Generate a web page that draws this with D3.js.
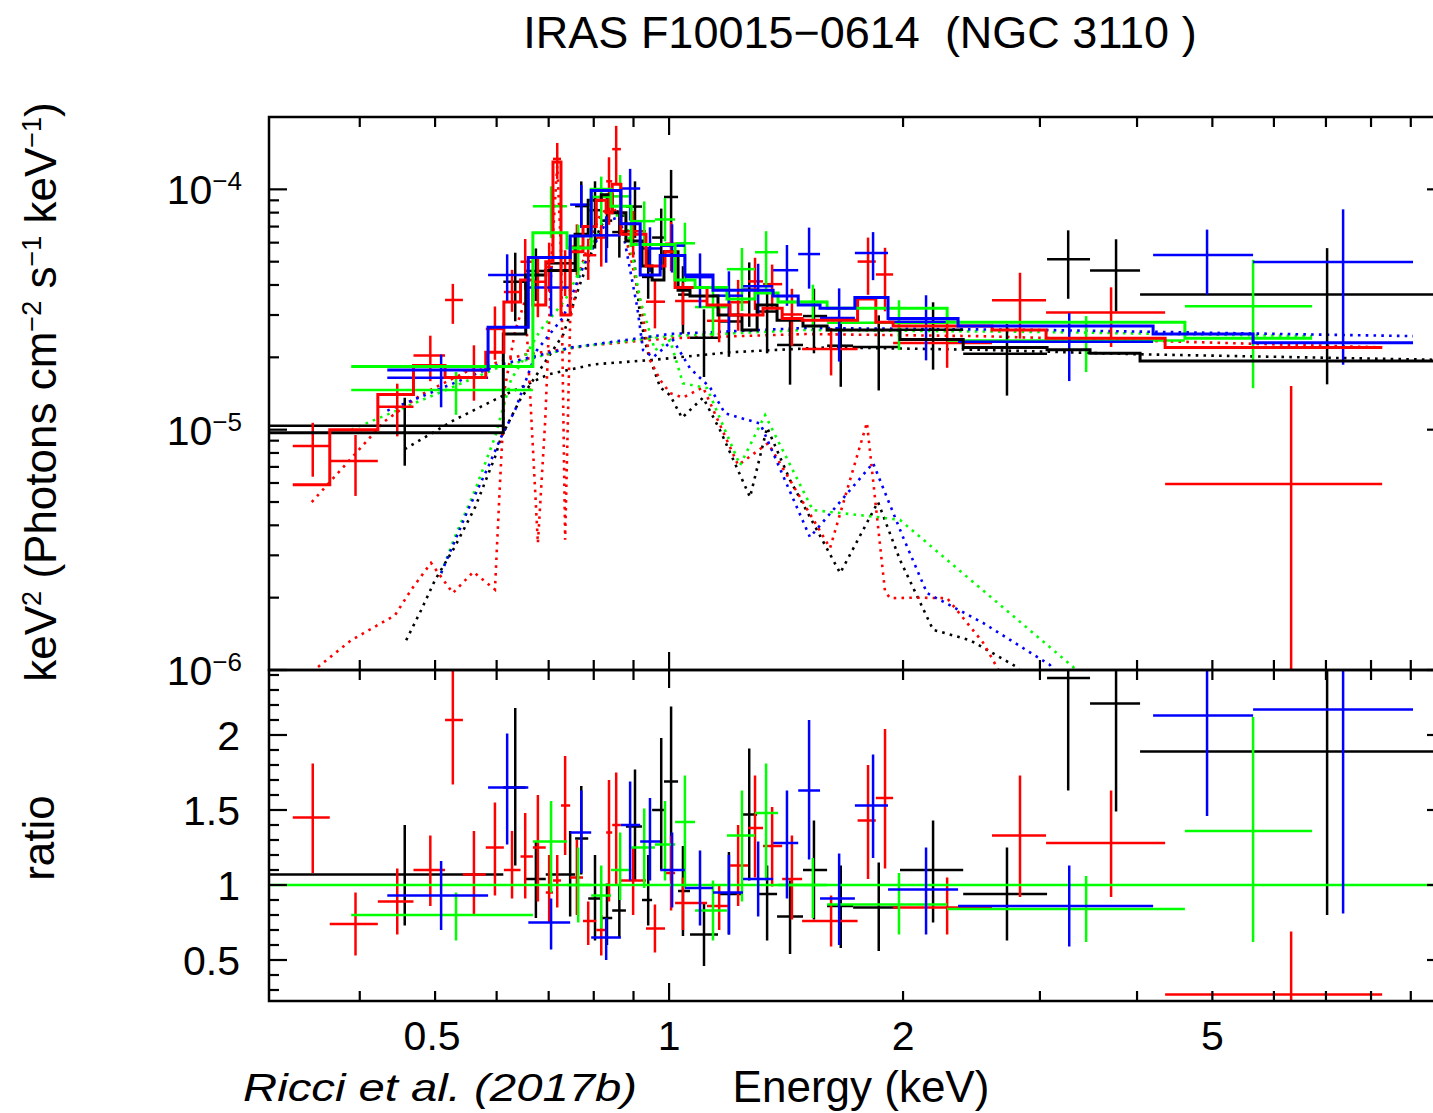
<!DOCTYPE html>
<html>
<head>
<meta charset="utf-8">
<script src="https://cdn.jsdelivr.net/npm/d3@7"></script>
<style>
  html, body { margin: 0; padding: 0; background: #fff; }
  svg { display: block; }
  text { font-family: "Liberation Sans", Arial, Helvetica, sans-serif; fill: #000; }
</style>
</head>
<body>
<svg id="chart" width="1433" height="1113"></svg>
<script>
// ---------- axis ticks ----------
const energyLabels = [0.5, 1, 2, 5];
const energyMinor = [0.4, 0.5, 0.6, 0.7, 0.8, 0.9, 2, 3, 4, 5, 6, 7, 8, 9];
const energyMajor = [1];
const fluxDecades = [1e-6, 1e-5, 1e-4];
const fluxExponents = ["−6", "−5", "−4"];
const ratioLabels = [0.5, 1, 1.5, 2];
const ratioLabelText = ["0.5", "1", "1.5", "2"];

// ---------- data set 1 (black) ----------
const blackLo  = [0.30,0.612,0.654,0.694,0.757,0.787,0.818,0.845,0.880,0.923,0.951,0.985,1.027,1.064,1.156,1.241,1.298,1.377,1.487,1.597,1.725,1.982,2.39,3.064,3.48,4.036];
const blackHi  = [0.612,0.654,0.694,0.757,0.787,0.818,0.845,0.880,0.923,0.951,0.985,1.027,1.064,1.156,1.241,1.298,1.377,1.487,1.597,1.725,1.982,2.39,3.064,3.48,4.036,10.5];
const blackCtr = [0.457,0.634,0.674,0.746,0.771,0.803,0.832,0.863,0.904,0.940,0.977,1.006,1.042,1.109,1.194,1.268,1.337,1.431,1.536,1.663,1.861,2.186,2.721,3.262,3.759,7.024];
const blackModel = [0.97e-5,2.5e-5,4.4e-5,4.6e-5,6.5e-5,9.0e-5,9.5e-5,8.0e-5,6.1e-5,4.8e-5,4.2e-5,5.5e-5,3.8e-5,3.6e-5,3.0e-5,2.6e-5,3.3e-5,2.85e-5,2.7e-5,2.6e-5,2.6e-5,2.37e-5,2.2e-5,2.15e-5,2.08e-5,1.93e-5];
const blackRatio   = [1.07,1.65,1.04,1.07,1.31,0.91,0.78,0.83,1.39,0.90,1.50,1.69,0.96,0.67,0.94,1.47,0.94,0.79,1.10,0.86,0.85,1.10,0.94,2.38,2.21,1.89];
const blackRatioLo = [0.73,1.13,0.78,0.79,1.07,0.63,0.60,0.65,1.03,0.73,1.10,1.03,0.66,0.46,0.67,1.03,0.63,0.54,0.77,0.58,0.56,0.75,0.63,1.63,1.49,0.80];
const blackRatioHi = [1.40,2.18,1.29,1.36,1.66,1.20,1.01,1.00,1.77,1.20,1.98,2.19,1.26,0.88,1.22,1.91,1.13,1.03,1.43,1.13,1.15,1.43,1.25,3.14,2.98,2.95];
const blackContinuum = [[0.457,8.3e-6],[0.53,1.1e-5],[0.61,1.38e-5],[0.70,1.7e-5],[0.80,1.87e-5],[0.95,1.95e-5],[1.2,2.1e-5],[1.6,2.2e-5],[2.5,2.15e-5],[4.0,2.06e-5],[10,1.95e-5]];
const blackThermal = [[0.459,1.33e-6],[0.480,1.78e-6],[0.500,2.37e-6],[0.530,3.25e-6],[0.563,4.76e-6],[0.597,7.68e-6],[0.608,9.31e-6],[0.643,1.33e-5],[0.731,2.49e-5],[0.768,4.03e-5],[0.791,5.22e-5],[0.815,6.95e-5],[0.845,8.18e-5],[0.870,8.02e-5],[0.899,5.58e-5],[0.918,2.94e-5],[0.937,2.14e-5],[0.974,1.5e-5],[1.003,1.39e-5],[1.039,1.12e-5],[1.106,1.36e-5],[1.163,9.95e-6],[1.271,5.24e-6],[1.337,1.02e-5],[1.431,6.17e-6],[1.660,2.53e-6],[1.857,5.0e-6],[1.982,2.87e-6],[2.186,1.47e-6],[2.44,1.33e-6],[2.80,1.03e-6],[2.9,9e-7]];

// ---------- data set 2 (red) ----------
const redLo  = [0.328,0.366,0.422,0.469,0.515,0.543,0.581,0.613,0.644,0.668,0.694,0.709,0.726,0.746,0.775,0.806,0.830,0.845,0.867,0.934,0.988,1.018,1.119,1.198,1.264,1.321,1.398,1.483,1.748,1.845,1.942,2.603,3.055,4.347];
const redHi  = [0.366,0.422,0.469,0.515,0.543,0.581,0.613,0.644,0.668,0.694,0.709,0.726,0.746,0.775,0.806,0.830,0.845,0.867,0.934,0.988,1.018,1.119,1.198,1.264,1.321,1.398,1.483,1.748,1.845,1.942,2.603,3.055,4.347,8.268];
const redCtr = [0.348,0.395,0.447,0.493,0.527,0.561,0.597,0.628,0.653,0.678,0.701,0.718,0.735,0.761,0.787,0.818,0.837,0.855,0.899,0.959,1.006,1.042,1.160,1.227,1.290,1.357,1.439,1.616,1.803,1.896,2.279,2.828,3.704,6.314];
const redModel = [5.9e-6,1.0e-5,1.4e-5,1.85e-5,1.65e-5,1.65e-5,2.1e-5,3.4e-5,4.2e-5,3.3e-5,5.0e-5,1.3e-4,3.0e-5,5.5e-5,7.0e-5,9.0e-5,8.0e-5,1.05e-4,6.5e-5,4.8e-5,5.5e-5,3.9e-5,3.3e-5,3.0e-5,3.0e-5,3.2e-5,2.9e-5,2.85e-5,3.5e-5,2.8e-5,2.7e-5,2.6e-5,2.4e-5,2.2e-5];
const redRatio   = [1.45,0.74,0.89,1.10,2.10,1.07,1.25,1.10,1.19,1.25,0.95,1.03,1.53,1.05,0.76,0.70,1.35,1.40,1.03,0.71,1.08,0.88,0.86,1.13,1.38,1.26,1.04,0.76,1.43,1.58,0.85,1.33,1.28,0.27];
const redRatioLo = [1.08,0.53,0.67,0.86,1.67,0.80,0.93,0.91,0.91,0.89,0.75,0.85,1.20,0.80,0.60,0.53,0.89,1.00,0.80,0.55,0.83,0.70,0.70,0.86,1.05,0.99,0.77,0.59,1.04,1.11,0.67,0.92,0.92,0];
const redRatioHi = [1.81,0.95,1.11,1.33,2.45,1.36,1.55,1.36,1.48,1.60,1.20,1.20,1.86,1.30,0.89,0.80,1.70,1.75,1.25,0.87,1.33,1.05,1.00,1.40,1.73,1.52,1.33,0.93,1.80,2.04,1.05,1.73,1.63,0.69];
const redContinuum = [[0.347,5.0e-6],[0.39,7.6e-6],[0.43,1.08e-5],[0.48,1.4e-5],[0.55,1.75e-5],[0.65,2.05e-5],[0.8,2.25e-5],[1.0,2.4e-5],[1.5,2.5e-5],[2.5,2.45e-5],[4.0,2.35e-5],[8.27,2.2e-5]];
const redThermal = [[0.3535,1.03e-6],[0.390,1.33e-6],[0.444,1.69e-6],[0.466,2.16e-6],[0.494,2.79e-6],[0.527,2.09e-6],[0.560,2.56e-6],[0.597,2.16e-6],[0.606,6.0e-6],[0.615,1.5e-5],[0.634,2.59e-5],[0.653,3.46e-5],[0.678,3.37e-6],[0.693,1.1e-5],[0.707,5.58e-5],[0.718,1.25e-4],[0.726,5.58e-5],[0.735,3.48e-6],[0.746,2.85e-5],[0.768,4.6e-5],[0.791,6.14e-5],[0.815,7.79e-5],[0.840,8.58e-5],[0.865,7.79e-5],[0.891,5.32e-5],[0.918,3.46e-5],[0.945,1.95e-5],[0.974,1.61e-5],[1.003,1.42e-5],[1.042,1.36e-5],[1.106,1.5e-5],[1.227,7.12e-6],[1.341,8.79e-6],[1.611,3.22e-6],[1.797,1.07e-5],[1.896,2.12e-6],[1.925,1.99e-6],[2.085,2.0e-6],[2.279,1.99e-6],[2.535,1.30e-6],[2.64,1.03e-6],[2.75,8e-7]];

// ---------- data set 3 (green) ----------
const greenLo  = [0.390,0.668,0.739,0.794,0.842,0.894,0.959,1.018,1.080,1.187,1.290,1.381,1.597,2.279,4.609];
const greenHi  = [0.668,0.739,0.794,0.842,0.894,0.959,1.018,1.080,1.187,1.290,1.381,1.597,2.279,4.609,6.719];
const greenCtr = [0.532,0.705,0.764,0.818,0.865,0.929,0.988,1.048,1.139,1.241,1.333,1.531,1.976,3.440,5.641];
const greenModel = [1.83e-5,6.6e-5,5.7e-5,1.0e-4,8.5e-5,5.9e-5,5.9e-5,4.2e-5,3.9e-5,3.5e-5,3.7e-5,3.4e-5,3.2e-5,2.8e-5,2.4e-5];
const greenRatio   = [0.80,1.29,1.00,0.93,1.10,1.25,1.27,1.42,0.83,1.33,1.48,1.00,0.87,0.84,1.36];
const greenRatioLo = [0.63,0.95,0.75,0.71,0.90,0.98,1.03,0.98,0.63,0.89,1.03,0.78,0.67,0.62,0.62];
const greenRatioHi = [0.95,1.56,1.25,1.13,1.35,1.51,1.56,1.73,1.03,1.63,1.81,1.18,1.08,1.06,2.12];
const greenContinuum = [[0.39,1.0e-5],[0.5,1.4e-5],[0.6,1.8e-5],[0.75,2.2e-5],[1.0,2.45e-5],[1.5,2.6e-5],[3.0,2.55e-5],[6.72,2.45e-5]];
const greenThermal = [[0.509,2.53e-6],[0.530,3.57e-6],[0.563,5.61e-6],[0.597,9.31e-6],[0.626,1.61e-5],[0.683,2.59e-5],[0.735,3.46e-5],[0.791,5.58e-5],[0.832,7.79e-5],[0.878,7.79e-5],[0.918,3.46e-5],[0.959,2.14e-5],[1.003,2.36e-5],[1.042,1.56e-5],[1.119,1.49e-5],[1.234,7.12e-6],[1.329,1.15e-5],[1.531,4.63e-6],[1.852,4.33e-6],[1.982,4.21e-6],[3.31,1.03e-6],[3.45,8.5e-7]];

// ---------- data set 4 (blue) ----------
const blueLo  = [0.434,0.585,0.659,0.746,0.794,0.867,0.918,0.974,1.048,1.139,1.245,1.361,1.466,1.564,1.734,1.913,2.354,4.195,5.641];
const blueHi  = [0.585,0.659,0.746,0.794,0.867,0.918,0.974,1.048,1.139,1.245,1.361,1.466,1.564,1.734,1.913,2.354,4.195,5.641,9.06];
const blueCtr = [0.509,0.619,0.705,0.771,0.830,0.891,0.945,1.009,1.096,1.194,1.302,1.418,1.514,1.655,1.830,2.141,3.272,4.922,7.365];
const blueModel = [1.77e-5,2.67e-5,5.2e-5,6.4e-5,9.9e-5,7.2e-5,4.4e-5,5.3e-5,4.4e-5,3.8e-5,3.8e-5,3.6e-5,3.3e-5,3.2e-5,3.55e-5,2.9e-5,2.7e-5,2.5e-5,2.3e-5];
const blueRatio   = [0.93,1.65,0.75,1.35,0.65,1.40,1.29,1.10,0.98,0.95,1.04,1.28,1.63,0.91,1.53,0.97,0.86,2.13,2.17];
const blueRatioLo = [0.70,1.27,0.57,1.08,0.50,1.03,1.03,0.85,0.73,0.67,0.79,0.91,1.17,0.60,1.18,0.67,0.59,1.46,0.81];
const blueRatioHi = [1.16,2.01,0.91,1.63,0.78,1.69,1.58,1.35,1.23,1.20,1.29,1.63,2.10,1.21,1.87,1.25,1.13,2.72,3.59];
const blueContinuum = [[0.434,1.2e-5],[0.5,1.45e-5],[0.6,1.85e-5],[0.75,2.2e-5],[1.0,2.5e-5],[1.5,2.65e-5],[3.0,2.6e-5],[9.06,2.45e-5]];
const blueThermal = [[0.509,2.53e-6],[0.551,4.63e-6],[0.585,6.98e-6],[0.608,9.31e-6],[0.634,1.21e-5],[0.676,2.14e-5],[0.731,2.94e-5],[0.775,4.74e-5],[0.832,7.43e-5],[0.865,7.65e-5],[0.910,3.23e-5],[0.926,2.14e-5],[0.954,2.0e-5],[1.012,2.36e-5],[1.064,1.8e-5],[1.129,1.5e-5],[1.180,1.17e-5],[1.310,1.06e-5],[1.518,3.57e-6],[1.830,7.26e-6],[2.000,3.57e-6],[2.147,2.09e-6],[2.535,1.57e-6],[3.09,1.05e-6],[3.3,8e-7]];

// ---------- layout ----------
const plotL = 269, plotR = 1445, topT = 117, split = 670, botB = 1001;
const x = d3.scaleLog().domain([0.3057, 9.96]).range([plotL, plotR]);
const yTop = d3.scaleLog().domain([1e-6, 2e-4]).range([split, topT]);
const yRat = d3.scaleLinear().domain([0.2267, 2.4333]).range([botB, split]);
const fy = v => yTop(Math.max(v, 1e-8));

const series = [
  { color: "#000000", lo: blackLo, hi: blackHi, ctr: blackCtr, model: blackModel, r: blackRatio, rLo: blackRatioLo, rHi: blackRatioHi, cont: blackContinuum, therm: blackThermal },
  { color: "#ff0000", lo: redLo, hi: redHi, ctr: redCtr, model: redModel, r: redRatio, rLo: redRatioLo, rHi: redRatioHi, cont: redContinuum, therm: redThermal },
  { color: "#00ff00", lo: greenLo, hi: greenHi, ctr: greenCtr, model: greenModel, r: greenRatio, rLo: greenRatioLo, rHi: greenRatioHi, cont: greenContinuum, therm: greenThermal },
  { color: "#0000ff", lo: blueLo, hi: blueHi, ctr: blueCtr, model: blueModel, r: blueRatio, rLo: blueRatioLo, rHi: blueRatioHi, cont: blueContinuum, therm: blueThermal }
];

const svg = d3.select("#chart");
const defs = svg.append("defs");
defs.append("clipPath").attr("id", "clipTop").append("rect")
  .attr("x", plotL).attr("y", topT).attr("width", plotR - plotL).attr("height", split - topT);
defs.append("clipPath").attr("id", "clipRat").append("rect")
  .attr("x", plotL).attr("y", split).attr("width", plotR - plotL).attr("height", botB - split);

const gTop = svg.append("g").attr("clip-path", "url(#clipTop)");
const gRat = svg.append("g").attr("clip-path", "url(#clipRat)");

// model components (dotted)
const compLine = d3.line().x(d => x(d[0])).y(d => fy(d[1]));
series.forEach(s => {
  [s.cont, s.therm].forEach(c => {
    gTop.append("path").attr("d", compLine(c))
      .attr("fill", "none").attr("stroke", s.color)
      .attr("stroke-width", 2.6).attr("stroke-dasharray", "2.6 5.2");
  });
});

// unfolded spectra: data crosses
series.forEach(s => {
  const g = gTop.append("g").attr("stroke", s.color).attr("stroke-width", 2.5);
  s.model.forEach((m, i) => {
    const v = m * s.r[i];
    g.append("line").attr("x1", x(s.lo[i])).attr("x2", x(s.hi[i])).attr("y1", fy(v)).attr("y2", fy(v));
    g.append("line").attr("x1", x(s.ctr[i])).attr("x2", x(s.ctr[i]))
      .attr("y1", fy(m * s.rLo[i])).attr("y2", fy(m * s.rHi[i]));
  });
});

// folded model histograms
const stepLine = d3.line().x(d => x(d[0])).y(d => fy(d[1]));
series.forEach(s => {
  const pts = [];
  s.model.forEach((m, i) => { pts.push([s.lo[i], m]); pts.push([s.hi[i], m]); });
  gTop.append("path").attr("d", stepLine(pts))
    .attr("fill", "none").attr("stroke", s.color).attr("stroke-width", 3);
});

// ratio panel
series.forEach((s, k) => {
  const g = gRat.append("g").attr("stroke", s.color).attr("stroke-width", 2.5);
  if (k === 2) {
    g.append("line").attr("x1", plotL).attr("x2", plotR).attr("y1", yRat(1)).attr("y2", yRat(1));
  }
  s.r.forEach((r, i) => {
    g.append("line").attr("x1", x(s.lo[i])).attr("x2", x(s.hi[i])).attr("y1", yRat(r)).attr("y2", yRat(r));
    g.append("line").attr("x1", x(s.ctr[i])).attr("x2", x(s.ctr[i]))
      .attr("y1", yRat(Math.max(s.rLo[i], 0))).attr("y2", yRat(s.rHi[i]));
  });
});

// ---------- frames and ticks ----------
const frame = svg.append("g").attr("stroke", "#000").attr("stroke-width", 2.5).attr("fill", "none");
frame.append("rect").attr("x", plotL).attr("y", topT).attr("width", plotR - plotL).attr("height", split - topT);
frame.append("rect").attr("x", plotL).attr("y", split).attr("width", plotR - plotL).attr("height", botB - split);

const tk = svg.append("g").attr("stroke", "#000").attr("stroke-width", 2.2);
const majorLen = 18, minorLen = 10;
function xTicks(vals, len) {
  vals.forEach(v => {
    const px = x(v);
    [[topT, 1], [split, -1], [split, 1], [botB, -1]].forEach(([y0, dir]) => {
      tk.append("line").attr("x1", px).attr("x2", px).attr("y1", y0).attr("y2", y0 + dir * len);
    });
  });
}
xTicks(energyMinor, minorLen);
xTicks(energyMajor, majorLen);

function yTicks(scale, vals, len) {
  vals.forEach(v => {
    const py = scale(v);
    tk.append("line").attr("x1", plotL).attr("x2", plotL + len).attr("y1", py).attr("y2", py);
    tk.append("line").attr("x1", plotR).attr("x2", plotR - len).attr("y1", py).attr("y2", py);
  });
}
yTicks(yTop, fluxDecades, majorLen);
const fluxMinor = [];
fluxDecades.forEach(d => { for (let k = 2; k <= 9; k++) { if (d * k < 1.99e-4) fluxMinor.push(d * k); } });
yTicks(yTop, fluxMinor, minorLen);
yTicks(yRat, ratioLabels, majorLen);
const ratioMinor = [];
for (let k = 3; k <= 24; k++) { if (k % 5 !== 0) ratioMinor.push(k / 10); }
yTicks(yRat, ratioMinor, minorLen);

// ---------- tick labels ----------
const tickFont = 41;
energyLabels.forEach(v => {
  svg.append("text").attr("x", x(v) - (v === 0.5 ? 3 : 0)).attr("y", 1050)
    .attr("text-anchor", "middle").style("font-size", tickFont + "px").text(v);
});
fluxDecades.forEach((v, i) => {
  const t = svg.append("text").attr("x", 242).attr("y", yTop(v) + 15)
    .attr("text-anchor", "end").style("font-size", tickFont + "px");
  t.append("tspan").text("10");
  t.append("tspan").attr("dy", -14).style("font-size", "26px").text(fluxExponents[i]);
});
ratioLabels.forEach((v, i) => {
  svg.append("text").attr("x", 240).attr("y", yRat(v) + 15)
    .attr("text-anchor", "end").style("font-size", tickFont + "px").text(ratioLabelText[i]);
});

// ---------- titles ----------
svg.append("text").attr("x", 860).attr("y", 48).attr("text-anchor", "middle")
  .style("font-size", "45px").style("white-space", "pre")
  .text("IRAS F10015−0614  (NGC 3110 )");

svg.append("text").attr("x", 861).attr("y", 1102).attr("text-anchor", "middle")
  .style("font-size", "44px").text("Energy (keV)");

const yl = svg.append("text").attr("transform", "translate(56,392) rotate(-90)")
  .attr("text-anchor", "middle").style("font-size", "44px");
yl.append("tspan").text("keV");
yl.append("tspan").attr("dy", -15).style("font-size", "27px").text("2");
yl.append("tspan").attr("dy", 15).text(" (Photons cm");
yl.append("tspan").attr("dy", -15).style("font-size", "27px").text("−2");
yl.append("tspan").attr("dy", 15).text(" s");
yl.append("tspan").attr("dy", -15).style("font-size", "27px").text("−1");
yl.append("tspan").attr("dy", 15).text(" keV");
yl.append("tspan").attr("dy", -15).style("font-size", "27px").text("−1");
yl.append("tspan").attr("dy", 15).text(")");

svg.append("text").attr("transform", "translate(54,838) rotate(-90)")
  .attr("text-anchor", "middle").style("font-size", "44px").text("ratio");

svg.append("text").attr("x", 243).attr("y", 1101)
  .style("font-style", "italic")
  .style("font-size", "39px").attr("textLength", 394).attr("lengthAdjust", "spacingAndGlyphs")
  .text("Ricci et al. (2017b)");
</script>
</body>
</html>
